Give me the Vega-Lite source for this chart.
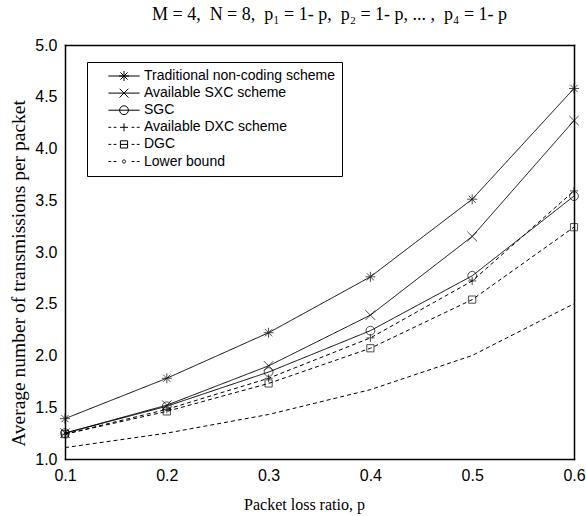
{
  "$schema": "https://vega.github.io/schema/vega-lite/v6.json",
  "width": 509,
  "height": 414,
  "autosize": "none",
  "padding": {"left": 65, "top": 45, "right": 12, "bottom": 57},
  "background": "white",
  "title": {"text": "M = 4,\u00a0 N = 8,\u00a0 p₁ = 1- p,\u00a0 p₂ = 1- p, ... ,\u00a0 p₄ = 1- p", "font": "Liberation Serif", "fontSize": 18, "fontWeight": "normal", "color": "black", "offset": 13, "dx": 10, "anchor": "middle"},
  "config": {
    "view": {"stroke": null},
    "axis": {"grid": false, "domainColor": "black", "domainWidth": 1.5, "domainCap": "square", "tickColor": "black", "tickWidth": 1, "labelColor": "black", "titleColor": "black"}
  },
  "data": {"values": [
    {"series": "Traditional non-coding scheme", "p": 0.1, "v": 1.39},
    {"series": "Traditional non-coding scheme", "p": 0.2, "v": 1.78},
    {"series": "Traditional non-coding scheme", "p": 0.3, "v": 2.22},
    {"series": "Traditional non-coding scheme", "p": 0.4, "v": 2.76},
    {"series": "Traditional non-coding scheme", "p": 0.5, "v": 3.51},
    {"series": "Traditional non-coding scheme", "p": 0.6, "v": 4.58},
    {"series": "Available SXC scheme", "p": 0.1, "v": 1.25},
    {"series": "Available SXC scheme", "p": 0.2, "v": 1.52},
    {"series": "Available SXC scheme", "p": 0.3, "v": 1.9},
    {"series": "Available SXC scheme", "p": 0.4, "v": 2.39},
    {"series": "Available SXC scheme", "p": 0.5, "v": 3.15},
    {"series": "Available SXC scheme", "p": 0.6, "v": 4.27},
    {"series": "SGC", "p": 0.1, "v": 1.25},
    {"series": "SGC", "p": 0.2, "v": 1.51},
    {"series": "SGC", "p": 0.3, "v": 1.84},
    {"series": "SGC", "p": 0.4, "v": 2.24},
    {"series": "SGC", "p": 0.5, "v": 2.77},
    {"series": "SGC", "p": 0.6, "v": 3.54},
    {"series": "Available DXC scheme", "p": 0.1, "v": 1.24},
    {"series": "Available DXC scheme", "p": 0.2, "v": 1.48},
    {"series": "Available DXC scheme", "p": 0.3, "v": 1.78},
    {"series": "Available DXC scheme", "p": 0.4, "v": 2.17},
    {"series": "Available DXC scheme", "p": 0.5, "v": 2.72},
    {"series": "Available DXC scheme", "p": 0.6, "v": 3.59},
    {"series": "DGC", "p": 0.1, "v": 1.24},
    {"series": "DGC", "p": 0.2, "v": 1.46},
    {"series": "DGC", "p": 0.3, "v": 1.73},
    {"series": "DGC", "p": 0.4, "v": 2.07},
    {"series": "DGC", "p": 0.5, "v": 2.54},
    {"series": "DGC", "p": 0.6, "v": 3.24},
    {"series": "Lower bound", "p": 0.1, "v": 1.11},
    {"series": "Lower bound", "p": 0.2, "v": 1.25},
    {"series": "Lower bound", "p": 0.3, "v": 1.43},
    {"series": "Lower bound", "p": 0.4, "v": 1.67},
    {"series": "Lower bound", "p": 0.5, "v": 2.0},
    {"series": "Lower bound", "p": 0.6, "v": 2.5}
  ]},
  "layer": [
    {
      "mark": {"type": "line", "color": "black", "strokeWidth": 1},
      "encoding": {
        "x": {"field": "p", "type": "quantitative", "scale": {"domain": [0.1, 0.6], "nice": false, "zero": false},
          "axis": {"orient": "bottom", "values": [0.1, 0.15, 0.2, 0.25, 0.3, 0.35, 0.4, 0.45, 0.5, 0.55, 0.6],
            "title": "Packet loss ratio, p", "titleFont": "Liberation Serif", "titleFontSize": 16, "titleFontWeight": "normal",
            "titleX": 239, "titleY": 50, "titleBaseline": "alphabetic", "titleAlign": "center",
            "labelFont": "Liberation Sans", "labelFontSize": 16, "labelPadding": 8, "labelFlush": false, "labelOverlap": false,
            "labelExpr": "abs(datum.value*10-round(datum.value*10))<0.001 ? format(datum.value,'.1f') : ''",
            "tickSize": 0,
            "encode": {"ticks": {"y2": {"condition": {"test": "abs(datum.value*10-round(datum.value*10))<0.001", "value": -7}, "value": -4}}}}},
        "y": {"field": "v", "type": "quantitative", "scale": {"domain": [1, 5], "nice": false, "zero": false},
          "axis": {"orient": "left", "values": [1, 1.25, 1.5, 1.75, 2, 2.25, 2.5, 2.75, 3, 3.25, 3.5, 3.75, 4, 4.25, 4.5, 4.75, 5],
            "title": "Average number of transmissions per packet", "titleFont": "Liberation Serif", "titleFontSize": 19.5, "titleFontWeight": "normal",
            "titleX": -47, "titleY": 228, "titleAngle": 270, "titleBaseline": "middle", "titleAlign": "center",
            "labelFont": "Liberation Sans", "labelFontSize": 16, "labelPadding": 8, "labelFlush": false, "labelOverlap": false,
            "labelExpr": "abs(datum.value*2-round(datum.value*2))<0.001 ? format(datum.value,'.1f') : ''",
            "tickSize": 0,
            "encode": {"ticks": {"x2": {"condition": {"test": "abs(datum.value*2-round(datum.value*2))<0.001", "value": 7}, "value": 4}}}}},
        "strokeDash": {"field": "series", "type": "nominal",
          "scale": {"domain": ["Lower bound", "DGC", "Available DXC scheme", "SGC", "Available SXC scheme", "Traditional non-coding scheme"],
            "range": [[4, 3], [4, 3], [4, 3], [1, 0], [1, 0], [1, 0]]},
          "legend": null}
      }
    },
    {
      "mark": {"type": "point", "filled": false, "color": "black", "strokeWidth": 1, "size": 64, "opacity": 0},
      "encoding": {
        "x": {"field": "p", "type": "quantitative", "axis": null},
        "y": {"field": "v", "type": "quantitative", "axis": null},
        "shape": {"field": "series", "type": "nominal",
          "scale": {"domain": ["Traditional non-coding scheme", "Available SXC scheme", "SGC", "Available DXC scheme", "DGC", "Lower bound"],
            "range": [
              "M-3.9,0L3.9,0M-1.25,0L1.25,0M0,-1.25L0,1.25M-0.9,-0.9L0.9,0.9M-0.9,0.9L0.9,-0.9",
              "M-3.9,0L3.9,0M-1.1,-1.1L1.1,1.1M-1.1,1.1L1.1,-1.1",
              "M-3.9,0L3.9,0M1.1,0A1.1,1.1,0,1,1,-1.1,0A1.1,1.1,0,1,1,1.1,0",
              "M-3.9,0L-3.2,0M-2.6,0L-1.9,0M-1,0L1,0M0,-1L0,1M1.9,0L2.6,0M3.2,0L3.9,0",
              "M-3.9,0L-3.2,0M-2.6,0L-1.9,0M-0.9,-0.9L0.9,-0.9L0.9,0.9L-0.9,0.9ZM-0.9,0L0.9,0M1.9,0L2.6,0M3.2,0L3.9,0",
              "M-3.9,0L-3.2,0M-2.6,0L-1.9,0M0.4,0A0.4,0.4,0,1,1,-0.4,0A0.4,0.4,0,1,1,0.4,0M1.9,0L2.6,0M3.2,0L3.9,0"
            ]},
          "legend": {
            "title": null, "orient": "none", "legendX": 22, "legendY": 17,
            "strokeColor": "black", "fillColor": "white", "padding": 7, "rowPadding": 3.1,
            "symbolSize": 64, "symbolStrokeWidth": 1, "symbolOpacity": 1, "symbolStrokeColor": "black", "symbolFillColor": "transparent",
            "symbolOffset": 23, "labelOffset": 13,
            "labelFont": "Liberation Sans", "labelFontSize": 14, "labelColor": "black", "labelLimit": 300
          }}
      }
    },
    {
      "mark": {"type": "point", "filled": false, "color": "black", "strokeWidth": 1, "size": 64},
      "encoding": {
        "x": {"field": "p", "type": "quantitative", "scale": {"domain": [0.1, 0.6], "nice": false, "zero": false},
          "axis": {"orient": "top", "values": [0.1, 0.15, 0.2, 0.25, 0.3, 0.35, 0.4, 0.45, 0.5, 0.55, 0.6],
            "title": null, "labels": false, "tickSize": 0,
            "encode": {"ticks": {"y2": {"condition": {"test": "abs(datum.value*10-round(datum.value*10))<0.001", "value": 7}, "value": 4}}}}},
        "y": {"field": "v", "type": "quantitative", "scale": {"domain": [1, 5], "nice": false, "zero": false},
          "axis": {"orient": "right", "values": [1, 1.25, 1.5, 1.75, 2, 2.25, 2.5, 2.75, 3, 3.25, 3.5, 3.75, 4, 4.25, 4.5, 4.75, 5],
            "title": null, "labels": false, "tickSize": 0,
            "encode": {"ticks": {"x2": {"condition": {"test": "abs(datum.value*2-round(datum.value*2))<0.001", "value": -7}, "value": -4}}}}},
        "shape": {"field": "series", "type": "nominal",
          "scale": {"domain": ["Lower bound", "DGC", "Available DXC scheme", "SGC", "Available SXC scheme", "Traditional non-coding scheme"],
            "range": [
              "M0,0L0,0",
              "M-0.9,-0.9L0.9,-0.9L0.9,0.9L-0.9,0.9Z",
              "M-1,0L1,0M0,-1L0,1",
              "M1.1,0A1.1,1.1,0,1,1,-1.1,0A1.1,1.1,0,1,1,1.1,0Z",
              "M-1.2,-1.2L1.2,1.2M-1.2,1.2L1.2,-1.2",
              "M-1.25,0L1.25,0M0,-1.25L0,1.25M-0.9,-0.9L0.9,0.9M-0.9,0.9L0.9,-0.9"
            ]},
          "legend": null}
      }
    }
  ],
  "resolve": {"axis": {"x": "independent", "y": "independent"}, "scale": {"shape": "independent"}}
}
